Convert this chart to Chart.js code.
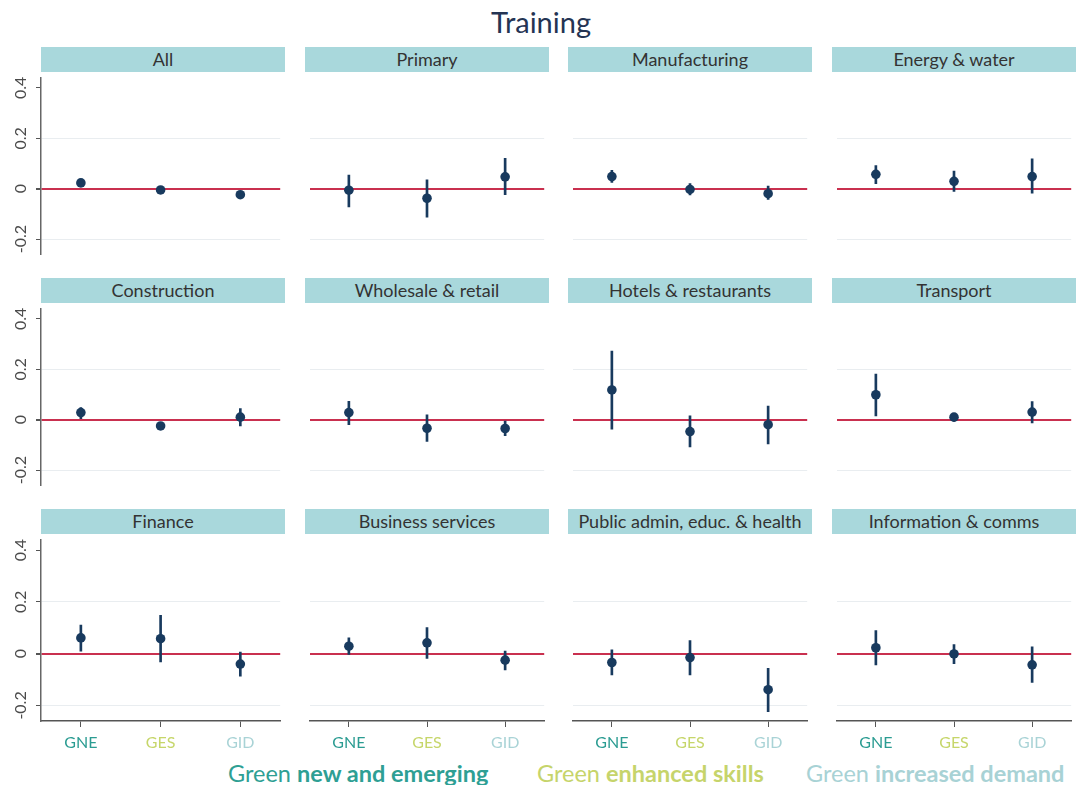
<!DOCTYPE html>
<html lang="en">
<head>
    <meta charset="UTF-8">
    <title>Training</title>
    <script src="https://cdn.jsdelivr.net/npm/chart.js"></script>
    <style>
        body {
            margin: 0;
            background: #ffffff;
            font-family: Lato, "Noto Sans", sans-serif;
        }
        #page {
            position: relative;
            width: 1082px;
            height: 785px;
            overflow: hidden;
        }
        #title {
            position: absolute;
            left: 0;
            width: 1082px;
            top: 4px;
            text-align: center;
            font-size: 29px;
            color: #243453;
        }
        .strip {
            position: absolute;
            height: 25px;
            line-height: 25px;
            background: #a9d8dc;
            color: #333;
            font-size: 18px;
            text-align: center;
            white-space: nowrap;
            overflow: hidden;
        }
        .panel {
            position: absolute;
        }
        .legend {
            position: absolute;
            top: 759px;
            font-size: 23.5px;
            white-space: nowrap;
        }
        .legend b {
            font-weight: 700;
        }
    </style>
</head>
<body>
<div id="page">
    <div id="title">Training</div>
    <div class="legend" style="left:228px;color:#2e9f94">Green <b>new and emerging</b></div>
    <div class="legend" style="left:537px;color:#c6d46b">Green <b>enhanced skills</b></div>
    <div class="legend" style="left:806px;color:#a8d2d5">Green <b>increased demand</b></div>
</div>

<script>
    // data
    const sectors = ['All', 'Primary', 'Manufacturing', 'Energy & water',
        'Construction', 'Wholesale & retail', 'Hotels & restaurants', 'Transport',
        'Finance', 'Business services', 'Public admin, educ. & health', 'Information & comms'];
    const categories = ['GNE', 'GES', 'GID'];
    const catColors = ['#2b9c92', '#c6d66a', '#a9d3d6'];

    const estimate = [
        [0.023, -0.005, -0.024],
        [-0.006, -0.038, 0.047],
        [0.048, -0.003, -0.020],
        [0.057, 0.029, 0.048],
        [0.028, -0.025, 0.010],
        [0.028, -0.034, -0.035],
        [0.118, -0.047, -0.020],
        [0.099, 0.010, 0.030],
        [0.061, 0.058, -0.040],
        [0.029, 0.042, -0.025],
        [-0.034, -0.015, -0.139],
        [0.023, -0.001, -0.043]
    ];
    const ciLow = [
        [0.013, -0.013, -0.033],
        [-0.072, -0.113, -0.024],
        [0.025, -0.025, -0.043],
        [0.020, -0.011, -0.018],
        [0.004, -0.040, -0.025],
        [-0.020, -0.086, -0.063],
        [-0.038, -0.108, -0.096],
        [0.015, -0.006, -0.013],
        [0.010, -0.032, -0.087],
        [-0.003, -0.018, -0.063],
        [-0.082, -0.082, -0.224],
        [-0.043, -0.039, -0.111]
    ];
    const ciHigh = [
        [0.033, 0.004, -0.015],
        [0.054, 0.035, 0.120],
        [0.073, 0.020, 0.010],
        [0.092, 0.070, 0.118],
        [0.048, -0.013, 0.044],
        [0.073, 0.019, -0.006],
        [0.272, 0.015, 0.054],
        [0.181, 0.025, 0.072],
        [0.111, 0.148, 0.006],
        [0.061, 0.101, 0.010],
        [0.015, 0.051, -0.057],
        [0.089, 0.035, 0.027]
    ];
    const yTicks = [-0.2, 0, 0.2, 0.4];
    const yTickLabels = ['-0.2', '0', '0.2', '0.4'];

    // layout
    const colLeft = [41, 305, 568, 832];
    const rowTop = [73, 304, 535];
    const plotW = 244;
    const plotH = 186;
    const yAxisW = 41;
    const xAxisH = 40;
    const navy = '#183a5e';

    const page = document.getElementById('page');

    // rotated y tick labels (Stata style)
    const yLabelPlugin = {
        id: 'yLabels',
        afterDraw(chart) {
            if (!chart.options.plugins.yLabels.show) return;
            const y = chart.scales.y;
            const ctx = chart.ctx;
            ctx.save();
            ctx.fillStyle = '#4a4a4a';
            ctx.font = '16px Lato, "Noto Sans", sans-serif';
            ctx.textAlign = 'center';
            ctx.textBaseline = 'middle';
            yTicks.forEach((v, i) => {
                ctx.save();
                ctx.translate(y.right - 20, y.getPixelForValue(v));
                ctx.rotate(-Math.PI / 2);
                ctx.fillText(yTickLabels[i], 0, 0);
                ctx.restore();
            });
            ctx.restore();
        }
    };

    sectors.forEach((name, k) => {
        const row = Math.floor(k / 4);
        const col = k % 4;
        const left = col === 0 ? 0 : colLeft[col];
        const width = col === 0 ? yAxisW + plotW : plotW;
        const bottom = row === 2;
        const height = bottom ? plotH + xAxisH : plotH;

        const strip = document.createElement('div');
        strip.className = 'strip';
        strip.style.left = colLeft[col] + 'px';
        strip.style.top = (rowTop[row] - 26) + 'px';
        strip.style.width = plotW + 'px';
        strip.textContent = name;
        page.appendChild(strip);

        const box = document.createElement('div');
        box.className = 'panel';
        box.style.left = left + 'px';
        box.style.top = rowTop[row] + 'px';
        box.style.width = width + 'px';
        box.style.height = height + 'px';
        const canvas = document.createElement('canvas');
        box.appendChild(canvas);
        page.appendChild(box);

        new Chart(canvas.getContext('2d'), {
            data: {
                labels: categories,
                datasets: [
                    {
                        type: 'line',
                        data: estimate[k],
                        showLine: false,
                        pointRadius: 4.8,
                        pointBackgroundColor: navy,
                        pointBorderWidth: 0,
                        order: 0
                    },
                    {
                        type: 'bar',
                        data: ciLow[k].map((lo, i) => [lo, ciHigh[k][i]]),
                        backgroundColor: navy,
                        barThickness: 2,
                        order: 1
                    }
                ]
            },
            options: {
                responsive: true,
                maintainAspectRatio: false,
                animation: false,
                layout: { padding: 0 },
                plugins: {
                    legend: { display: false },
                    tooltip: { enabled: false },
                    yLabels: { show: col === 0 }
                },
                scales: {
                    x: {
                        display: bottom,
                        offset: true,
                        grid: {
                            offset: false,
                            drawOnChartArea: false,
                            color: '#555',
                            tickColor: '#555',
                            tickLength: 6
                        },
                        border: { display: true, color: '#555', width: 1.5 },
                        ticks: {
                            padding: 6,
                            color: ctx => catColors[ctx.index],
                            font: { family: 'Lato, "Noto Sans", sans-serif', size: 16 }
                        },
                        afterFit: s => {
                            s.height = bottom ? xAxisH : 0;
                            s.paddingLeft = 0;
                            s.paddingRight = 0;
                        }
                    },
                    y: {
                        min: -0.26,
                        max: 0.44,
                        afterBuildTicks: s => { s.ticks = yTicks.map(v => ({ value: v })); },
                        grid: {
                            color: ctx => ctx.tick.value === 0 ? '#c9304f'
                                : (ctx.tick.value === 0.4 ? 'rgba(0,0,0,0)' : '#e9edf0'),
                            lineWidth: ctx => ctx.tick.value === 0 ? 2 : 1,
                            drawTicks: col === 0,
                            tickColor: '#555',
                            tickLength: 5
                        },
                        border: { display: col === 0, color: '#666', width: 1.5 },
                        ticks: { display: false },
                        afterFit: s => {
                            s.width = col === 0 ? yAxisW : 0;
                            s.paddingTop = 0;
                            s.paddingBottom = 0;
                        }
                    }
                }
            },
            plugins: [yLabelPlugin]
        });
    });
</script>
</body>
</html>
